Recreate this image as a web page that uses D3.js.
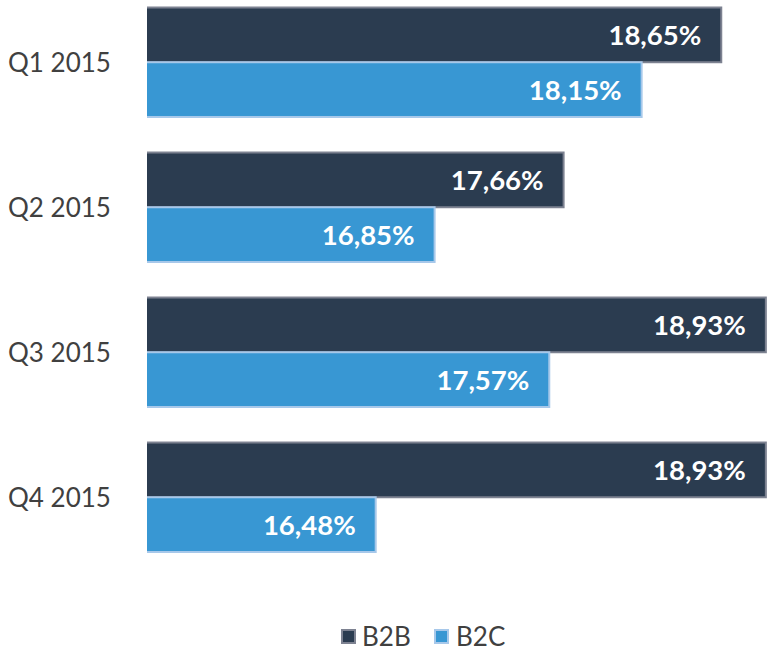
<!DOCTYPE html>
<html><head><meta charset="utf-8">
<script src="https://cdn.jsdelivr.net/npm/d3@7/dist/d3.min.js"></script>
<style>body{margin:0;background:#fff}svg{display:block}</style>
</head><body><svg id="c" width="776" height="655"></svg>
<script>
const categories = ["Q1 2015","Q2 2015","Q3 2015","Q4 2015"];
const seriesNames = ["B2B","B2C"];
const b2b = [18.65,17.66,18.93,18.93];
const b2c = [18.15,16.85,17.57,16.48];
const xDomain = [15,19];

const fills = ["#2b3c50","#3897d3"];
const strokes = ["#7d8291","#a7c8ea"];
const svg = d3.select("#c");
const x = d3.scaleLinear().domain(xDomain).range([140,777]);
const y = d3.scaleBand().domain(categories).range([7.5,552]).paddingInner(0.245).paddingOuter(0);
const sub = d3.scaleBand().domain(seriesNames).range([0,y.bandwidth()]);
svg.append("defs").append("clipPath").attr("id","clip").append("rect").attr("x",147).attr("y",0).attr("width",629).attr("height",655);
const fmt = v => d3.format(".2f")(v).replace(".",",")+"%";
const series = [b2b,b2c];
const g = svg.append("g").attr("clip-path","url(#clip)");
series.forEach((vals,si)=>{
  g.selectAll(".b"+si).data(vals).enter().append("rect")
    .attr("x",x(xDomain[0])).attr("y",(d,i)=>y(categories[i])+sub(seriesNames[si]))
    .attr("width",d=>x(d)-x(xDomain[0])).attr("height",sub.bandwidth())
    .attr("fill",fills[si]).attr("stroke",strokes[si]).attr("stroke-width",2);
  svg.selectAll(".t"+si).data(vals).enter().append("text")
    .attr("x",d=>x(d)-20).attr("y",(d,i)=>y(categories[i])+sub(seriesNames[si])+sub.bandwidth()/2)
    .attr("dy","0.36em").attr("text-anchor","end")
    .attr("font-family","Lato, sans-serif").attr("font-weight","bold").attr("font-size",27.5)
    .attr("fill","#fff").text(fmt);
});
svg.selectAll(".cat").data(categories).enter().append("text")
  .attr("x",8).attr("y",d=>y(d)+y.bandwidth()/2).attr("dy","0.36em")
  .attr("font-family","Lato, sans-serif").attr("font-size",26).attr("fill","#404040").text(d=>d);
const leg = [{x:341,tx:362},{x:434,tx:456}];
seriesNames.forEach((n,i)=>{
  svg.append("rect").attr("x",leg[i].x+1).attr("y",630).attr("width",13).attr("height",13)
    .attr("fill",fills[i]).attr("stroke",strokes[i]).attr("stroke-width",2);
  svg.append("text").attr("x",leg[i].tx).attr("y",637).attr("dy","0.36em")
    .attr("font-family","Lato, sans-serif").attr("font-size",26).attr("fill","#404040").text(n);
});
</script></body></html>
